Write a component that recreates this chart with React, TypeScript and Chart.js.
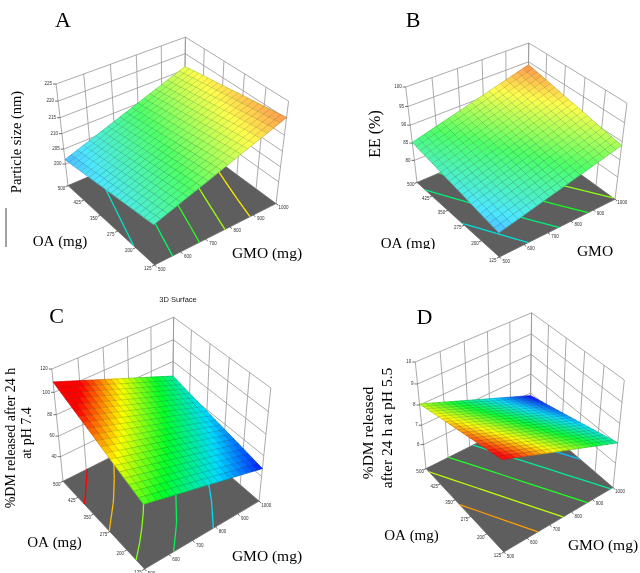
import { useEffect, useRef } from "react";
import { Chart, registerables } from "chart.js";

Chart.register(...registerables);

// factor levels on the floor axes
const gmoLevels = [500, 600, 700, 800, 900, 1000];
const oaLevels = [125, 200, 275, 350, 425, 500];

// responses: rows run OA 125 -> 500, columns GMO 500 -> 1000
const particleSize = [
  [206.0, 208.9, 211.7, 214.6, 217.4, 220.3],
  [205.1, 208.0, 210.8, 213.7, 216.6, 219.4],
  [204.2, 207.1, 209.9, 212.8, 215.7, 218.6],
  [203.3, 206.2, 209.1, 211.9, 214.8, 217.7],
  [202.4, 205.3, 208.2, 211.1, 214.0, 216.9],
  [201.5, 204.4, 207.3, 210.2, 213.1, 216.0],
];
const particleSizeTicks = [200, 205, 210, 215, 220, 225];
const particleSizeContours = [205, 208, 211, 214, 217];

const entrapment = [
  [80.5, 82.2, 83.9, 85.6, 87.3, 89.0],
  [81.4, 83.2, 84.9, 86.6, 88.3, 90.0],
  [82.4, 84.1, 85.9, 87.6, 89.3, 91.1],
  [83.3, 85.1, 86.8, 88.6, 90.4, 92.1],
  [84.3, 86.0, 87.8, 89.6, 91.4, 93.2],
  [85.2, 87.0, 88.8, 90.6, 92.4, 94.2],
];
const entrapmentTicks = [80, 85, 90, 95, 100];
const entrapmentContours = [82.5, 84.7, 86.9, 89.1, 91.3, 93.5];

const releasePh74 = [
  [77.0, 71.1, 65.3, 59.4, 53.6, 47.7],
  [83.4, 77.0, 70.6, 64.2, 57.8, 51.4],
  [89.8, 82.8, 75.9, 68.9, 62.0, 55.0],
  [96.2, 88.7, 81.2, 73.7, 66.2, 58.7],
  [102.6, 94.5, 86.5, 78.4, 70.4, 62.3],
  [109.0, 100.4, 91.8, 83.2, 74.6, 66.0],
];
const releasePh74Ticks = [40, 60, 80, 100, 120];
const releasePh74Contours = [60, 70, 80, 90, 100];

const releasePh55 = [
  [9.25, 8.81, 8.37, 7.93, 7.49, 7.05],
  [9.01, 8.57, 8.13, 7.69, 7.25, 6.81],
  [8.77, 8.33, 7.89, 7.45, 7.01, 6.57],
  [8.53, 8.09, 7.65, 7.21, 6.77, 6.33],
  [8.29, 7.85, 7.41, 6.97, 6.53, 6.09],
  [8.05, 7.61, 7.17, 6.73, 6.29, 5.85],
];
const releasePh55Ticks = [6, 7, 8, 9, 10];
const releasePh55Contours = [6.6, 7.1, 7.6, 8.1, 8.6];

const SERIF = '"Liberation Serif", "Times New Roman", serif';
const SANS = '"Liberation Sans", Arial, sans-serif';
const W = 320;
const H = 287;
const SUB = 4;

// camera used by all four plots
const VIEW = { az: 37, el: 40, dist: 11, half: 0.95 };
const ca = Math.cos((VIEW.az * Math.PI) / 180);
const sa = Math.sin((VIEW.az * Math.PI) / 180);
const ce = Math.cos((VIEW.el * Math.PI) / 180);
const se = Math.sin((VIEW.el * Math.PI) / 180);

function project(x: number, y: number, z: number) {
  const u = x * ca - y * sa;
  const w = x * sa + y * ca;
  const up = w * se + z * ce;
  const dep = w * ce - z * se;
  const s = VIEW.dist / (VIEW.dist + dep);
  return { X: u * s, Y: up * s, dep };
}

const RAMP: [number, number[]][] = [
  [0, [0, 0, 255]],
  [0.25, [0, 220, 255]],
  [0.5, [0, 255, 40]],
  [0.75, [255, 255, 0]],
  [1, [255, 0, 0]],
];

function ramp(t: number, wash: number) {
  const v = Math.max(0, Math.min(1, t));
  let k = 0;
  while (k < RAMP.length - 2 && v > RAMP[k + 1][0]) k++;
  const [t0, c0] = RAMP[k];
  const [t1, c1] = RAMP[k + 1];
  const f = (v - t0) / (t1 - t0);
  const c = c0.map((a, i) => {
    const m = a + (c1[i] - a) * f;
    return Math.round(m + (255 - m) * wash);
  });
  return `rgb(${c[0]},${c[1]},${c[2]})`;
}

type Label = {
  text: string;
  x: number;
  y: number;
  size: number;
  rotate?: boolean;
  sans?: boolean;
  clipBottom?: number;
};

type PanelSpec = {
  grid: number[][];
  zTicks: number[];
  zMin: number;
  zMax: number;
  colorMin: number;
  colorMax: number;
  contours: number[];
  wash: number;
  frame: { left: number; right: number; top: number; front: number };
  labels: Label[];
  rules?: number[][];
};

type Pt = { x: number; y: number; dep: number };

function drawSurfacePanel(chart: Chart, spec: PanelSpec) {
  const ctx = chart.ctx;
  const sx = chart.scales.x;
  const sy = chart.scales.y;
  const g0 = gmoLevels[0];
  const g1 = gmoLevels[gmoLevels.length - 1];
  const o0 = oaLevels[0];
  const o1 = oaLevels[oaLevels.length - 1];
  const h = VIEW.half;
  const { zMin, zMax } = spec;

  const at = (g: number, o: number, z: number): Pt => {
    const p = project(
      ((g - g0) / (g1 - g0)) * 2 - 1,
      ((o - o0) / (o1 - o0)) * 2 - 1,
      -h + (2 * h * (z - zMin)) / (zMax - zMin)
    );
    return { x: sx.getPixelForValue(p.X), y: sy.getPixelForValue(p.Y), dep: p.dep };
  };
  const path = (pts: Pt[], close = false) => {
    ctx.beginPath();
    pts.forEach((p, k) => (k ? ctx.lineTo(p.x, p.y) : ctx.moveTo(p.x, p.y)));
    if (close) ctx.closePath();
  };
  const line = (pts: Pt[]) => {
    path(pts);
    ctx.stroke();
  };
  const tone = (z: number, wash: number) =>
    ramp((z - spec.colorMin) / (spec.colorMax - spec.colorMin), wash);

  ctx.save();

  // back walls
  ctx.strokeStyle = "#959595";
  ctx.lineWidth = 0.8;
  for (const g of gmoLevels) line([at(g, o1, zMin), at(g, o1, zMax)]);
  for (const o of oaLevels) line([at(g1, o, zMin), at(g1, o, zMax)]);
  for (const z of spec.zTicks) line([at(g0, o1, z), at(g1, o1, z), at(g1, o0, z)]);

  // floor
  path([at(g0, o0, zMin), at(g1, o0, zMin), at(g1, o1, zMin), at(g0, o1, zMin)], true);
  ctx.fillStyle = "#5e5e5e";
  ctx.fill();
  ctx.strokeStyle = "#6a6a6a";
  ctx.stroke();

  // contour lines on the floor
  const grid = spec.grid;
  ctx.lineWidth = 1.3;
  for (const level of spec.contours) {
    ctx.strokeStyle = tone(level, 0);
    for (let i = 0; i < oaLevels.length - 1; i++) {
      for (let j = 0; j < gmoLevels.length - 1; j++) {
        const corners = [
          [gmoLevels[j], oaLevels[i], grid[i][j]],
          [gmoLevels[j + 1], oaLevels[i], grid[i][j + 1]],
          [gmoLevels[j + 1], oaLevels[i + 1], grid[i + 1][j + 1]],
          [gmoLevels[j], oaLevels[i + 1], grid[i + 1][j]],
        ];
        const cross: Pt[] = [];
        for (let k = 0; k < 4; k++) {
          const a = corners[k];
          const b = corners[(k + 1) % 4];
          if (a[2] < level !== b[2] < level) {
            const t = (level - a[2]) / (b[2] - a[2]);
            cross.push(at(a[0] + t * (b[0] - a[0]), a[1] + t * (b[1] - a[1]), zMin));
          }
        }
        if (cross.length >= 2) line([cross[0], cross[1]]);
        if (cross.length === 4) line([cross[2], cross[3]]);
      }
    }
  }

  // floor ticks
  ctx.strokeStyle = "#222";
  ctx.fillStyle = "#333";
  ctx.lineWidth = 0.7;
  ctx.font = `4.5px ${SANS}`;
  ctx.textAlign = "center";
  ctx.textBaseline = "middle";
  for (const o of oaLevels) {
    line([at(g0, o, zMin), at(g0 - 10, o, zMin)]);
    const p = at(g0 - 26, o, zMin);
    ctx.fillText(String(o), p.x, p.y);
  }
  for (const g of gmoLevels) {
    line([at(g, o0, zMin), at(g, o0 - 8, zMin)]);
    const p = at(g, o0 - 20, zMin);
    ctx.fillText(String(g), p.x + 2, p.y);
  }

  // surface, sampled within each grid cell
  const rows = (oaLevels.length - 1) * SUB + 1;
  const cols = (gmoLevels.length - 1) * SUB + 1;
  const pts: (Pt & { z: number })[][] = [];
  for (let r = 0; r < rows; r++) {
    const i = Math.min(Math.floor(r / SUB), oaLevels.length - 2);
    const fv = r / SUB - i;
    const o = oaLevels[i] + fv * (oaLevels[i + 1] - oaLevels[i]);
    const row: (Pt & { z: number })[] = [];
    for (let c = 0; c < cols; c++) {
      const j = Math.min(Math.floor(c / SUB), gmoLevels.length - 2);
      const fu = c / SUB - j;
      const g = gmoLevels[j] + fu * (gmoLevels[j + 1] - gmoLevels[j]);
      const z =
        grid[i][j] * (1 - fu) * (1 - fv) +
        grid[i][j + 1] * fu * (1 - fv) +
        grid[i + 1][j] * (1 - fu) * fv +
        grid[i + 1][j + 1] * fu * fv;
      row.push({ ...at(g, o, z), z });
    }
    pts.push(row);
  }
  const quads: { p: Pt[]; z: number; dep: number }[] = [];
  for (let r = 0; r < rows - 1; r++) {
    for (let c = 0; c < cols - 1; c++) {
      const q = [pts[r][c], pts[r][c + 1], pts[r + 1][c + 1], pts[r + 1][c]];
      quads.push({
        p: q,
        z: (q[0].z + q[1].z + q[2].z + q[3].z) / 4,
        dep: (q[0].dep + q[1].dep + q[2].dep + q[3].dep) / 4,
      });
    }
  }
  quads.sort((a, b) => b.dep - a.dep);
  ctx.lineWidth = 0.7;
  for (const q of quads) {
    const col = tone(q.z, spec.wash);
    path(q.p, true);
    ctx.fillStyle = col;
    ctx.strokeStyle = col;
    ctx.fill();
    ctx.stroke();
  }
  ctx.strokeStyle = "rgba(30,40,40,0.35)";
  ctx.lineWidth = 0.5;
  for (let r = 0; r < rows; r++) line(pts[r]);
  for (let c = 0; c < cols; c++) line(pts.map((row) => row[c]));

  // response axis ticks
  ctx.strokeStyle = "#333";
  ctx.fillStyle = "#333";
  ctx.lineWidth = 0.7;
  ctx.font = `4.5px ${SANS}`;
  ctx.textAlign = "right";
  for (const z of spec.zTicks) {
    const p = at(g0, o1, z);
    line([{ x: p.x - 3, y: p.y, dep: 0 }, p]);
    ctx.fillText(String(z), p.x - 4, p.y);
  }

  // titles
  ctx.textAlign = "center";
  ctx.textBaseline = "middle";
  for (const lb of spec.labels) {
    ctx.save();
    if (lb.clipBottom) {
      ctx.beginPath();
      ctx.rect(0, 0, W, lb.clipBottom);
      ctx.clip();
    }
    ctx.translate(lb.x, lb.y);
    if (lb.rotate) ctx.rotate(-Math.PI / 2);
    ctx.font = `${lb.size}px ${lb.sans ? SANS : SERIF}`;
    ctx.fillStyle = lb.sans ? "#222" : "#000";
    ctx.fillText(lb.text, 0, 0);
    ctx.restore();
  }
  ctx.strokeStyle = "#444";
  ctx.lineWidth = 1;
  for (const [x1, y1, x2, y2] of spec.rules ?? []) {
    ctx.beginPath();
    ctx.moveTo(x1, y1);
    ctx.lineTo(x2, y2);
    ctx.stroke();
  }
  ctx.restore();
}

const panelA: PanelSpec = {
  grid: particleSize,
  zTicks: particleSizeTicks,
  zMin: 192.5,
  zMax: 225,
  colorMin: 197,
  colorMax: 223,
  contours: particleSizeContours,
  wash: 0.3,
  frame: { left: 68, right: 276, top: 84, front: 265 },
  labels: [
    { text: "A", x: 63, y: 21, size: 22 },
    { text: "Particle size (nm)", x: 17, y: 142, size: 14.5, rotate: true },
    { text: "OA (mg)", x: 60, y: 242, size: 15 },
    { text: "GMO (mg)", x: 267, y: 254, size: 15.5 },
  ],
  rules: [[6, 208, 6, 247]],
};

const panelB: PanelSpec = {
  grid: entrapment,
  zTicks: entrapmentTicks,
  zMin: 73.3,
  zMax: 100,
  colorMin: 77,
  colorMax: 96,
  contours: entrapmentContours,
  wash: 0.3,
  frame: { left: 97, right: 295, top: 87, front: 257 },
  labels: [
    { text: "B", x: 93, y: 21, size: 22 },
    { text: "EE (%)", x: 56, y: 134, size: 16, rotate: true },
    { text: "OA (mg)", x: 88, y: 244, size: 15, clipBottom: 249 },
    { text: "GMO", x: 275, y: 252, size: 15.5 },
  ],
};

const panelC: PanelSpec = {
  grid: releasePh74,
  zTicks: releasePh74Ticks,
  zMin: 15,
  zMax: 120,
  colorMin: 46,
  colorMax: 100,
  contours: releasePh74Contours,
  wash: 0,
  frame: { left: 63, right: 259, top: 82, front: 282 },
  labels: [
    { text: "3D Surface", x: 178, y: 13, size: 7.5, sans: true },
    { text: "C", x: 56.5, y: 30.5, size: 22 },
    { text: "%DM released after 24 h", x: 11, y: 151, size: 14, rotate: true },
    { text: "at pH 7.4", x: 27, y: 146, size: 14, rotate: true },
    { text: "OA (mg)", x: 54.5, y: 256.5, size: 15 },
    { text: "GMO (mg)", x: 267, y: 269.5, size: 15.5 },
  ],
};

const panelD: PanelSpec = {
  grid: releasePh55,
  zTicks: releasePh55Ticks,
  zMin: 4.7,
  zMax: 10,
  colorMin: 5.9,
  colorMax: 9.1,
  contours: releasePh55Contours,
  wash: 0.05,
  frame: { left: 106, right: 293, top: 75, front: 265 },
  labels: [
    { text: "D", x: 104.5, y: 31.5, size: 22 },
    { text: "%DM released", x: 49, y: 146, size: 15.5, rotate: true },
    { text: "after 24 h at pH 5.5", x: 67.5, y: 141, size: 15.5, rotate: true },
    { text: "OA (mg)", x: 91.5, y: 249, size: 15 },
    { text: "GMO (mg)", x: 283, y: 258.5, size: 15.5 },
  ],
};

function SurfacePanel({ spec, left, top }: { spec: PanelSpec; left: number; top: number }) {
  const ref = useRef<HTMLCanvasElement>(null);

  useEffect(() => {
    if (!ref.current) return;
    const h = VIEW.half;
    const fl = project(-1, 1, -h);
    const fr = project(1, -1, -h);
    const tl = project(-1, 1, h);
    const ff = project(-1, -1, -h);
    const f = spec.frame;
    const ux = (fr.X - fl.X) / (f.right - f.left);
    const xmin = fl.X - f.left * ux;
    const uy = (tl.Y - ff.Y) / (f.front - f.top);
    const ymax = tl.Y + f.top * uy;

    const chart = new Chart(ref.current, {
      type: "scatter",
      data: { datasets: [] },
      options: {
        animation: false,
        responsive: false,
        events: [],
        layout: { padding: 0 },
        scales: {
          x: { type: "linear", display: false, bounds: "data", min: xmin, max: xmin + W * ux },
          y: { type: "linear", display: false, bounds: "data", min: ymax - H * uy, max: ymax },
        },
        plugins: { legend: { display: false }, tooltip: { enabled: false }, title: { display: false } },
      },
      plugins: [{ id: "surface3d", afterDraw: (c: Chart) => drawSurfacePanel(c, spec) }],
    });
    return () => chart.destroy();
  }, [spec]);

  return (
    <canvas
      ref={ref}
      width={W}
      height={H}
      style={{ position: "absolute", left, top, width: W, height: H }}
    />
  );
}

export default function App() {
  useEffect(() => {
    document.body.style.margin = "0";
  }, []);

  return (
    <div style={{ position: "relative", width: 640, height: 573, overflow: "hidden", background: "#fff" }}>
      <SurfacePanel spec={panelA} left={0} top={0} />
      <SurfacePanel spec={panelB} left={320} top={0} />
      <SurfacePanel spec={panelC} left={0} top={H} />
      <SurfacePanel spec={panelD} left={320} top={H} />
    </div>
  );
}
